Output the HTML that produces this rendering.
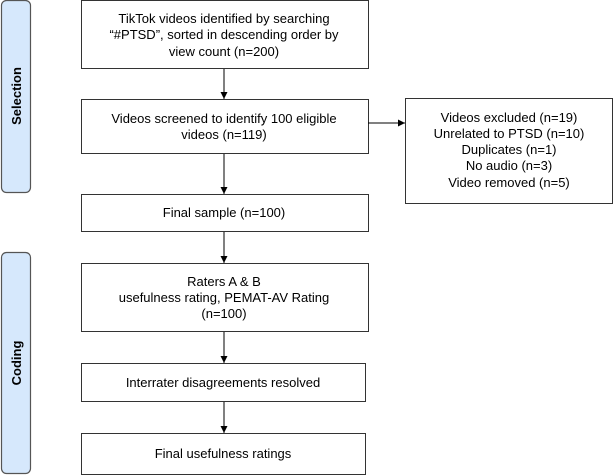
<!DOCTYPE html>
<html><head><meta charset="utf-8"><style>
body{margin:0;background:#fff;}
</style></head><body>
<svg width="613" height="475" xmlns="http://www.w3.org/2000/svg" style="display:block">
<defs><marker id="a" markerWidth="8" markerHeight="8" refX="7" refY="4" orient="auto" markerUnits="userSpaceOnUse"><path d="M0,0.5 L7,4 L0,7.5 z" fill="#000"/></marker></defs>
<g fill="#d6e8fc" stroke="#555" stroke-width="1.2">
<rect x="1.5" y="0.5" width="29" height="192" rx="5"/>
<rect x="1.5" y="252.5" width="29" height="221" rx="5"/>
</g>
<g font-family="Liberation Sans, sans-serif" font-weight="bold" font-size="13" fill="#000" text-anchor="middle">
<text transform="translate(21,96) rotate(-90)">Selection</text>
<text transform="translate(21,363) rotate(-90)">Coding</text>
</g>
<g fill="#fff" stroke="#333" stroke-width="1">
<rect x="81.5" y="0.5" width="287" height="68"/>
<rect x="81.5" y="99.5" width="287" height="54"/>
<rect x="81.5" y="194.5" width="287" height="37"/>
<rect x="81.5" y="263.5" width="287" height="68"/>
<rect x="81.5" y="363.5" width="284" height="38"/>
<rect x="81.5" y="433.5" width="284" height="41"/>
<rect x="405.5" y="98.5" width="207" height="105"/>
</g>
<g stroke="#000" stroke-width="1" marker-end="url(#a)">
<line x1="224" y1="69" x2="224" y2="99"/>
<line x1="224" y1="154" x2="224" y2="194"/>
<line x1="224" y1="232" x2="224" y2="263"/>
<line x1="224" y1="332" x2="224" y2="363"/>
<line x1="224" y1="402" x2="224" y2="433"/>
<line x1="368" y1="123" x2="405" y2="123"/>
</g>
<g font-family="Liberation Sans, sans-serif" font-size="13" fill="#000" text-anchor="middle">
<text x="224" y="23">TikTok videos identified by searching</text>
<text x="224" y="39">“#PTSD”, sorted in descending order by</text>
<text x="224" y="56">view count (n=200)</text>
<text x="224" y="123">Videos screened to identify 100 eligible</text>
<text x="224" y="139">videos (n=119)</text>
<text x="224" y="217">Final sample (n=100)</text>
<text x="224" y="286">Raters A &amp; B</text>
<text x="224" y="302">usefulness rating, PEMAT-AV Rating</text>
<text x="224" y="318">(n=100)</text>
<text x="223" y="387">Interrater disagreements resolved</text>
<text x="223" y="458">Final usefulness ratings</text>
<text x="509" y="122">Videos excluded (n=19)</text>
<text x="509" y="138">Unrelated to PTSD (n=10)</text>
<text x="509" y="154">Duplicates (n=1)</text>
<text x="509" y="170">No audio (n=3)</text>
<text x="509" y="187">Video removed (n=5)</text>
</g>
</svg>
</body></html>
